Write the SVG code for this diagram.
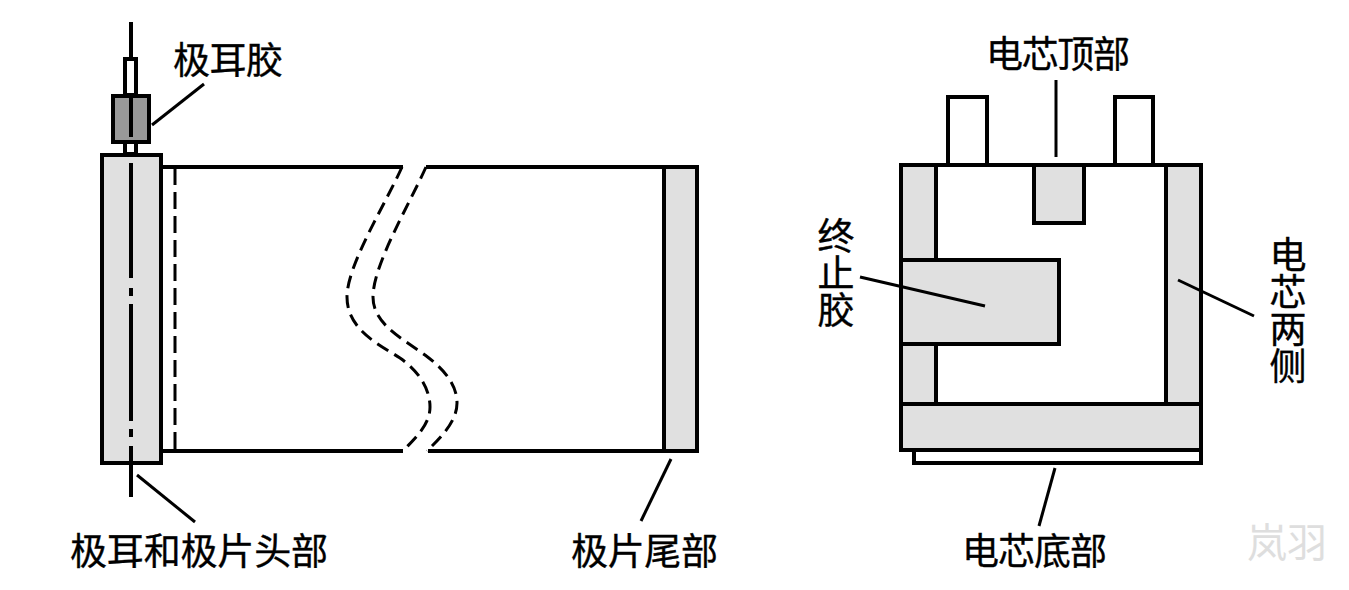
<svg xmlns="http://www.w3.org/2000/svg" width="1349" height="590" viewBox="0 0 1349 590">
<style>
.o{fill:none;stroke:#000;stroke-width:4}
.g{fill:#e0e0e0;stroke:#000;stroke-width:4}
.w{fill:#fff;stroke:#000;stroke-width:4}
.l{fill:none;stroke:#000;stroke-width:3}
.c{fill:none;stroke:#000;stroke-width:4}
.d{fill:none;stroke:#000;stroke-width:3}
.v{writing-mode:vertical-rl}
text{font-family:"Noto Sans CJK SC","Noto Sans CJK JP",sans-serif;font-size:37px;fill:#000;stroke:#000;stroke-width:.35}
</style>
<rect width="1349" height="590" fill="#fff"/>
<g id="connectors">
<path class="l" d="M204 84L152 125"/>
<path class="l" d="M137 475L195 522"/>
<path class="l" d="M671 459L641 521"/>
<path class="l" d="M1056 80V157"/>
<path class="l" d="M1055 468L1039 526"/>
</g>
<g id="cell-strip">
<path class="o" d="M162 167H403M162 451H403M426 167H665M428 451H665"/>
<path class="d" stroke-dasharray="17 7" d="M175 168V451"/>
<path class="d" stroke-dasharray="13 7" d="M402 167C385 205 347 265 347 297C347 330 380 345 400 358C420 372 430 390 430 407C430 425 415 438 403 451"/>
<path class="d" stroke-dasharray="13 7" d="M426 167C409 205 373 265 373 297C373 325 405 340 425 355C445 370 457 385 457 403C457 422 440 438 427 451"/>
</g>
<g id="tab-glue">
<rect class="o" x="125" y="59" width="11" height="36"/>
<path class="c" d="M131 22V58"/>
<rect class="o" x="125" y="142" width="11" height="12"/>
<rect x="113" y="96" width="36" height="46" fill="#999" stroke="#000" stroke-width="4"/>
<path class="c" d="M131 98V137"/>
</g>
<g id="head">
<rect class="g" x="102" y="155" width="59" height="308"/>
<path class="c" d="M131 163V278M131 288V296M131 304V421M131 429V437M131 446V497"/>
</g>
<g id="tail"><rect class="g" x="664" y="167" width="33" height="284"/></g>
<g id="cell">
<rect class="w" x="948" y="97" width="39" height="68"/>
<rect class="w" x="1115" y="97" width="38" height="68"/>
<rect class="w" x="914" y="445" width="287" height="18"/>
<rect class="w" x="901" y="165" width="300" height="285"/>
<rect class="g" x="901" y="165" width="35" height="285"/>
<rect class="g" x="1166" y="165" width="35" height="285"/>
<rect class="g" x="1034" y="165" width="50" height="58"/>
<rect class="g" x="901" y="260" width="158" height="84"/>
<rect class="g" x="901" y="404" width="300" height="46"/>
<path class="l" d="M860 277L985 306"/>
<path class="l" d="M1178 280L1254 316"/>
</g>
<g id="labels">
<text x="173" y="74" textLength="110">极耳胶</text>
<text x="70" y="565" textLength="258">极耳和极片头部</text>
<text x="571" y="565" textLength="147">极片尾部</text>
<text x="986" y="68" textLength="144">电芯顶部</text>
<text x="962" y="565" textLength="145">电芯底部</text>
<text class="v" x="836" y="217">终止胶</text>
<text class="v" x="1288" y="236">电芯两侧</text>
<text x="1247" y="557" style="font-size:40px;fill:#dedede;stroke:none">岚羽</text>
</g>
</svg>
